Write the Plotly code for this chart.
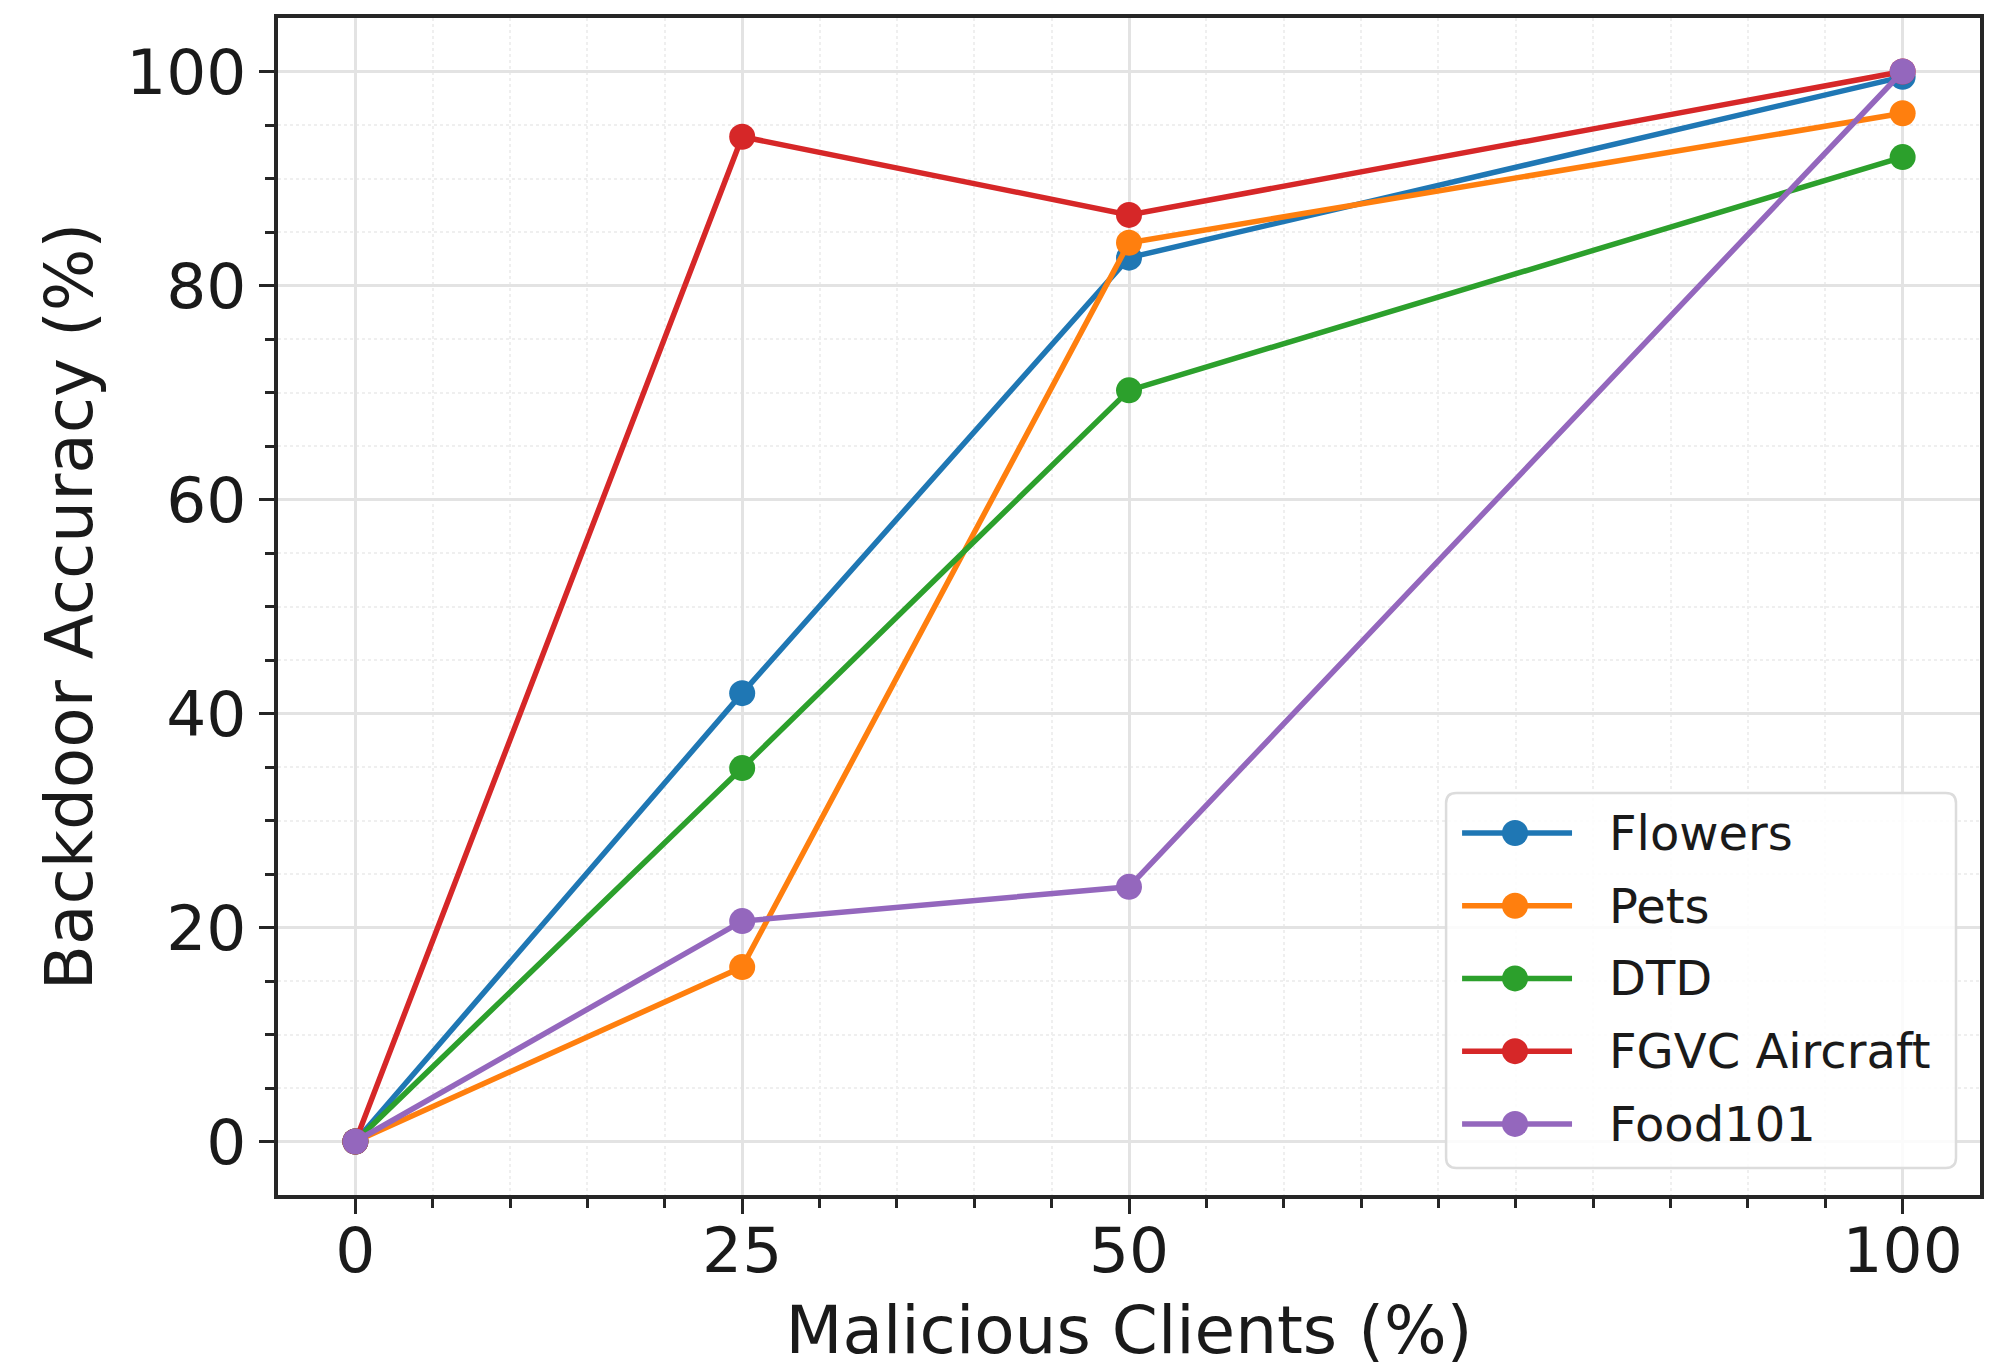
import plotly.graph_objects as go

# Backdoor accuracy versus share of malicious clients, per dataset
malicious_pct = [0, 25, 50, 100]
flowers = [0, 41.9, 82.6, 99.5]
pets = [0, 16.3, 84.0, 96.1]
dtd = [0, 34.9, 70.2, 92.0]
fgvc_aircraft = [0, 93.9, 86.6, 100.0]
food101 = [0, 20.6, 23.8, 100.0]

series_names = ["Flowers", "Pets", "DTD", "FGVC Aircraft", "Food101"]
series_values = [flowers, pets, dtd, fgvc_aircraft, food101]
series_colors = ["#1f77b4", "#ff7f0e", "#2ca02c", "#d62728", "#9467bd"]

x_ticks = [0, 25, 50, 100]
y_ticks = [0, 20, 40, 60, 80, 100]
minor_ticks = list(range(0, 101, 5))

FONT = "DejaVu Sans"
INK = "#1a1a1a"

fig = go.Figure()
for name, vals, col in zip(series_names, series_values, series_colors):
    fig.add_trace(go.Scatter(
        x=malicious_pct, y=vals, name=name, mode="lines+markers",
        line=dict(color=col, width=5.5),
        marker=dict(color=col, size=26, symbol="circle"),
        showlegend=False,
    ))

axis_common = dict(
    showline=True, linecolor="#262626", linewidth=4, mirror=True,
    ticks="outside", ticklen=15, tickwidth=3, tickcolor="#262626",
    showgrid=True, gridcolor="#e3e3e3", gridwidth=2.5,
    zeroline=False, automargin=False,
    tickfont=dict(family=FONT, size=63, color=INK),
    minor=dict(tickmode="array", tickvals=minor_ticks, ticks="outside",
               ticklen=9, tickwidth=2.5, tickcolor="#262626",
               showgrid=True, gridcolor="#efefef", gridwidth=2,
               griddash="dot"),
)

fig.update_xaxes(
    range=[-5, 105], tickmode="array", tickvals=x_ticks,
    ticktext=[str(v) for v in x_ticks], ticklabelstandoff=-18,
    title=dict(text="Malicious Clients (%)", standoff=26,
               font=dict(family=FONT, size=66, color=INK)),
    **axis_common,
)
fig.update_yaxes(
    range=[-5, 105], tickmode="array", tickvals=y_ticks,
    ticktext=[str(v) for v in y_ticks],
    title=dict(text="Backdoor Accuracy (%)", standoff=13,
               font=dict(family=FONT, size=66, color=INK)),
    **axis_common,
)

# Legend panel drawn in paper coordinates (lower right of the axes)
box_x0, box_x1 = 0.6863, 0.9859
box_y0, box_y1 = 0.0229, 0.3415
r = 0.006
ry = r * 1702 / 1177
shapes = [dict(
    type="path", xref="paper", yref="paper", layer="above",
    path=(f"M{box_x0 + r},{box_y0} L{box_x1 - r},{box_y0} "
          f"Q{box_x1},{box_y0} {box_x1},{box_y0 + ry} "
          f"L{box_x1},{box_y1 - ry} Q{box_x1},{box_y1} {box_x1 - r},{box_y1} "
          f"L{box_x0 + r},{box_y1} Q{box_x0},{box_y1} {box_x0},{box_y1 - ry} "
          f"L{box_x0},{box_y0 + ry} Q{box_x0},{box_y0} {box_x0 + r},{box_y0} Z"),
    fillcolor="rgba(255,255,255,0.85)", line=dict(color="#dcdcdc", width=2.5),
)]
annotations = []
row_top = 0.3076
row_step = 0.0618
glyph_x0, glyph_x1, glyph_mid = 0.6957, 0.7603, 0.7268
text_x = 0.7808
for i, (name, col) in enumerate(zip(series_names, series_colors)):
    yy = row_top - i * row_step
    shapes.append(dict(type="line", xref="paper", yref="paper", layer="above",
                       x0=glyph_x0, x1=glyph_x1, y0=yy, y1=yy,
                       line=dict(color=col, width=5.5)))
    shapes.append(dict(type="circle", xref="paper", yref="paper", layer="above",
                       xsizemode="pixel", ysizemode="pixel",
                       xanchor=glyph_mid, yanchor=yy,
                       x0=-13, x1=13, y0=-13, y1=13,
                       fillcolor=col, line=dict(color=col, width=0)))
    annotations.append(dict(xref="paper", yref="paper", x=text_x, y=yy,
                            xanchor="left", yanchor="middle", showarrow=False,
                            text=name, font=dict(family=FONT, size=48, color=INK)))

fig.update_layout(
    width=2014, height=1369,
    margin=dict(l=278, r=34, t=18, b=174),
    paper_bgcolor="white", plot_bgcolor="white",
    font=dict(family=FONT, color=INK),
    shapes=shapes, annotations=annotations,
    showlegend=False,
)

fig.write_html("out.html")
